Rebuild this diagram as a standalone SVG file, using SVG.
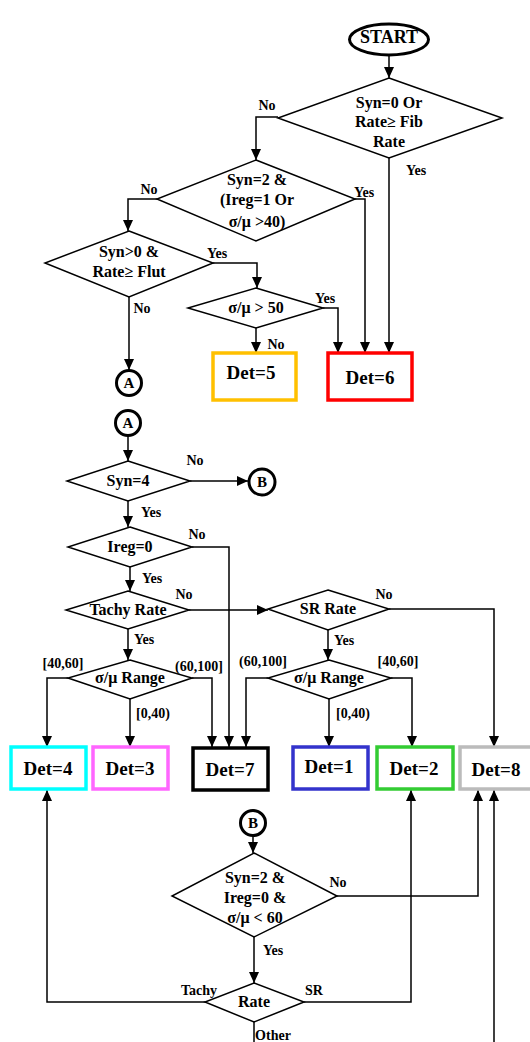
<svg xmlns="http://www.w3.org/2000/svg" width="530" height="1042" viewBox="0 0 530 1042">
<style>
text{font-family:"Liberation Serif","Times New Roman",serif;font-weight:bold;fill:#000;text-anchor:middle}
.d{fill:#fff;stroke:#000;stroke-width:1.5}
.c{fill:#fff;stroke:#000;stroke-width:3}
.t{font-size:16px}
.l{font-size:14px}
.b{font-size:19px}
.k{font-size:15px}
.box{fill:#fff;stroke-width:3.5}
.w{fill:none;stroke:#000;stroke-width:1.5}
</style>
<defs>
<marker id="ah" markerUnits="userSpaceOnUse" markerWidth="12" markerHeight="12" refX="11" refY="6" orient="auto">
<path d="M0,1 L11,6 L0,11 z" fill="#000"/>
</marker>
</defs>
<rect width="530" height="1042" fill="#fff"/>

<g id="connectors" class="w" marker-end="url(#ah)">
<path d="M389,56 V78"/>
<path d="M278,117 H256 V160"/>
<path d="M389,158 V353"/>
<path d="M355,199 H365 V353"/>
<path d="M157,199 H128 V231"/>
<path d="M213,263 H257 V288"/>
<path d="M323,308 H338 V353"/>
<path d="M256,328 V353"/>
<path d="M129,297 V370"/>
<path d="M128,436 V461"/>
<path d="M190,481 H248"/>
<path d="M128,501 V527"/>
<path d="M192,547 H229 V747"/>
<path d="M130,567 V591"/>
<path d="M189,610 H268"/>
<path d="M389,609 H494 V747"/>
<path d="M328,630 V660"/>
<path d="M128,629 V660"/>
<path d="M68,678 H47 V747"/>
<path d="M192,678 H212 V747"/>
<path d="M130,699 V747"/>
<path d="M268,678 H246 V747"/>
<path d="M391,678 H412 V747"/>
<path d="M329,699 V747"/>
<path d="M253,836 V853"/>
<path d="M337,896 H478 V790"/>
<path d="M254,937 V983"/>
<path d="M205,1002 H47 V790"/>
<path d="M304,1002 H411 V790"/>
<path d="M494,1042 V790"/>
<path d="M254,1022 V1042" marker-end="none"/>
</g>

<g id="start"><ellipse class="c" cx="389" cy="39.5" rx="39.5" ry="15.5"/><text x="389" y="43" style="font-size:18px">START</text></g>

<g id="d1"><polygon class="d" points="389,78 502,118 389,158 278,118"/>
<text class="t" x="389" y="108">Syn=0 Or</text><text class="t" x="389" y="127">Rate≥  Fib</text><text class="t" x="389" y="147">Rate</text></g>

<g id="d2"><polygon class="d" points="256,160 355,199 256,241 157,199"/>
<text class="t" x="257" y="185">Syn=2 &amp;</text><text class="t" x="257" y="205">(Ireg=1 Or</text><text class="t" x="257" y="227">σ/μ &gt;40)</text></g>

<g id="d3"><polygon class="d" points="129,231 213,263 129,297 45,263"/>
<text class="t" x="129" y="257">Syn&gt;0 &amp;</text><text class="t" x="129" y="277">Rate≥  Flut</text></g>

<g id="d4"><polygon class="d" points="256,288 323,308 256,328 188,308"/>
<text class="t" x="256" y="313">σ/μ &gt; 50</text></g>

<g id="det5"><rect class="box" x="213" y="353" width="83" height="47" stroke="#FFC000"/><text class="b" x="251" y="379">Det=5</text></g>
<g id="det6"><rect class="box" x="328" y="353" width="84" height="47" stroke="#FF0000"/><text class="b" x="370" y="384">Det=6</text></g>

<g id="connA1"><circle class="c" cx="129" cy="383" r="12.5"/><text class="k" x="129" y="388">A</text></g>
<g id="connA2"><circle class="c" cx="128" cy="423" r="12.5"/><text class="k" x="128" y="428">A</text></g>

<g id="syn4"><polygon class="d" points="128,461 190,481 128,501 67,481"/><text class="t" x="128" y="486">Syn=4</text></g>
<g id="connB1"><circle class="c" cx="262" cy="482" r="13"/><text class="k" x="262" y="487">B</text></g>

<g id="ireg0"><polygon class="d" points="130,527 192,547 130,567 68,547"/><text class="t" x="130" y="552">Ireg=0</text></g>
<g id="tachy"><polygon class="d" points="128,591 189,610 128,629 66,610"/><text class="t" x="128" y="615">Tachy Rate</text></g>
<g id="srrate"><polygon class="d" points="328,590 389,609 328,630 268,609"/><text class="t" x="328" y="614">SR Rate</text></g>

<g id="range1"><polygon class="d" points="130,660 192,678 130,699 68,678"/><text class="t" x="130" y="683">σ/μ Range</text></g>
<g id="range2"><polygon class="d" points="329,660 391,678 329,699 268,678"/><text class="t" x="329" y="683">σ/μ Range</text></g>

<g id="det4"><rect class="box" x="11" y="747" width="75" height="42" stroke="#00FFFF"/><text class="b" x="48" y="775">Det=4</text></g>
<g id="det3"><rect class="box" x="93" y="747" width="75" height="42" stroke="#FF66FF"/><text class="b" x="130" y="775">Det=3</text></g>
<g id="det7"><rect class="box" x="193" y="748" width="75" height="42" stroke="#000"/><text class="b" x="230" y="776">Det=7</text></g>
<g id="det1"><rect class="box" x="293" y="747" width="75" height="42" stroke="#3333CC"/><text class="b" x="329" y="773">Det=1</text></g>
<g id="det2"><rect class="box" x="377" y="747" width="76" height="42" stroke="#33CC33"/><text class="b" x="414" y="775">Det=2</text></g>
<g id="det8"><rect class="box" x="460" y="747" width="78" height="42" stroke="#BBBBBB"/><text class="b" x="496" y="776">Det=8</text></g>

<g id="connB2"><circle class="c" cx="253" cy="823" r="12.5"/><text class="k" x="253" y="828">B</text></g>

<g id="d5"><polygon class="d" points="254,853 337,896 254,937 172,896"/>
<text class="t" x="255" y="883">Syn=2 &amp;</text><text class="t" x="255" y="903">Ireg=0 &amp;</text><text class="t" x="255" y="923">σ/μ &lt; 60</text></g>

<g id="rate"><polygon class="d" points="254,983 304,1002 254,1022 205,1002"/><text class="t" x="254" y="1007">Rate</text></g>

<g id="labels" class="l">
<text x="267" y="110">No</text>
<text x="416" y="175">Yes</text>
<text x="364" y="197">Yes</text>
<text x="149" y="194">No</text>
<text x="217" y="258">Yes</text>
<text x="325" y="303">Yes</text>
<text x="276" y="349">No</text>
<text x="142" y="313">No</text>
<text x="195" y="465">No</text>
<text x="151" y="517">Yes</text>
<text x="197" y="539">No</text>
<text x="152" y="583">Yes</text>
<text x="184" y="599">No</text>
<text x="144" y="644">Yes</text>
<text x="63" y="668">[40,60]</text>
<text x="199" y="671">(60,100]</text>
<text x="153" y="718">[0,40)</text>
<text x="384" y="599">No</text>
<text x="344" y="645">Yes</text>
<text x="263" y="666">(60,100]</text>
<text x="398" y="666">[40,60]</text>
<text x="353" y="718">[0,40)</text>
<text x="338" y="887">No</text>
<text x="273" y="955">Yes</text>
<text x="199" y="995">Tachy</text>
<text x="314" y="995">SR</text>
<text x="273" y="1040">Other</text>
</g>
</svg>
